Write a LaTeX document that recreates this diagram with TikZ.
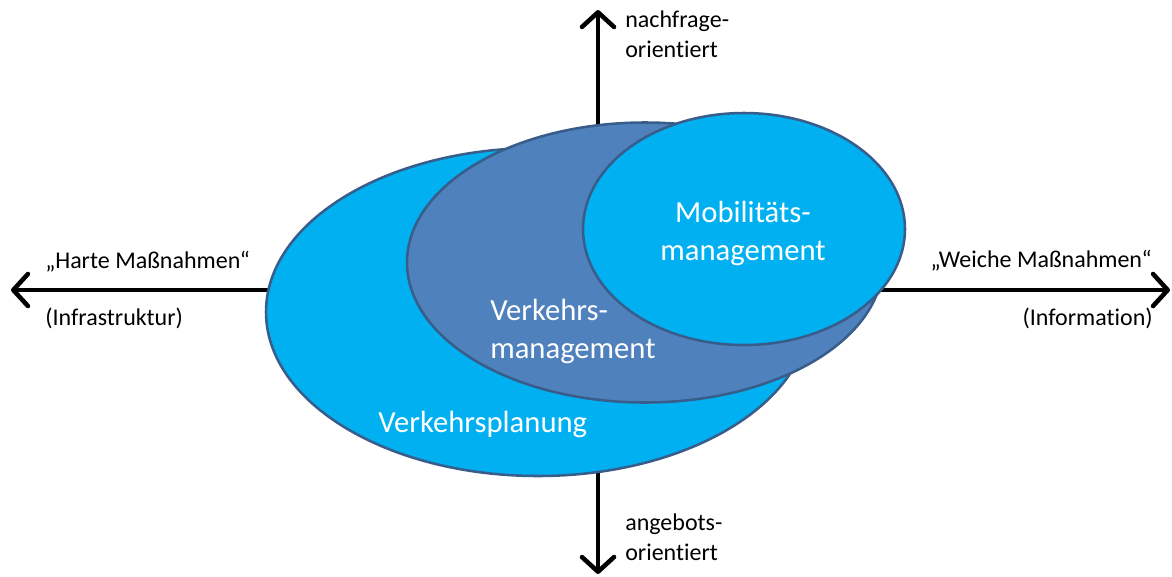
\documentclass[tikz,border=0pt]{standalone}
\usepackage{fontspec}
\setmainfont{Carlito}[Ligatures={NoCommon,NoRare}]
\usetikzlibrary{shapes.geometric,arrows.meta}
\definecolor{lightfill}{HTML}{00B0F0}
\definecolor{darkfill}{HTML}{4F81BD}
\definecolor{rimcol}{HTML}{385D8A}
\tikzset{
  axisline/.style={line width=3.4pt, -{Straight Barb[length=11pt,width=24pt,round]}},
  blob/.style={ellipse, draw=rimcol, line width=1.9pt, inner sep=0pt, outer sep=0pt},
  lbl/.style={font=\fontsize{18}{22}\selectfont, inner sep=0pt, text=black},
  biglbl/.style={font=\fontsize{23}{28.5}\selectfont, inner sep=0pt, text=white},
}
\begin{document}
\begin{tikzpicture}[x=0.75pt,y=-0.75pt]
\useasboundingbox (0,0) rectangle (1172,576);
\coordinate (O) at (598,290);
\coordinate (L) at (11,290);
\coordinate (R) at (1170,290);
\coordinate (T) at (598,10);
\coordinate (B) at (598,574);
\draw[axisline] (O) -- (L);
\draw[axisline] (O) -- (R);
\draw[axisline] (O) -- (T);
\draw[axisline] (O) -- (B);
\node[blob, fill=lightfill, minimum width=408pt, minimum height=246pt] (vp) at (538,312) {};
\node[blob, fill=darkfill, minimum width=357pt, minimum height=210pt] (vm) at (645,262.5) {};
\node[blob, fill=lightfill, minimum width=241.5pt, minimum height=174pt] (mm) at (744,229) {};
\node[biglbl, align=center, anchor=base] (mmt) at (743,260) {Mobilitäts-\\management};
\node[biglbl, align=left, anchor=base west] (vmt) at (490,358) {Verkehrs-\\management};
\node[biglbl, anchor=base west] (vpt) at (378,432) {Verkehrsplanung};
\node[lbl, anchor=base west] (hart) at (45,268) {„Harte Maßnahmen“};
\node[lbl, anchor=base west] (infra) at (45,325) {(Infrastruktur)};
\node[lbl, anchor=base east] (weich) at (1152,267) {„Weiche Maßnahmen“};
\node[lbl, anchor=base east] (info) at (1153,325) {(Information)};
\node[lbl, align=left, anchor=base west] (nach) at (625,57) {nachfrage-\\orientiert};
\node[lbl, align=left, anchor=base west] (ange) at (625,560) {angebots-\\orientiert};
\end{tikzpicture}
\end{document}
